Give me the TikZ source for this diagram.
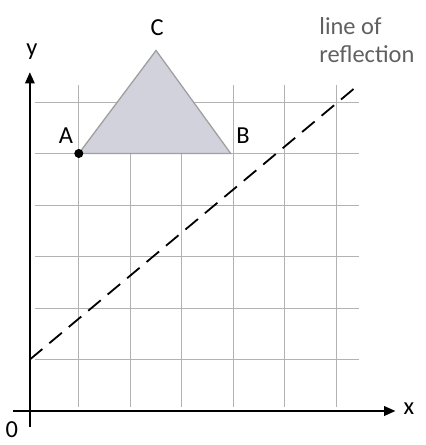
\documentclass[tikz,border=0pt]{standalone}
\usepackage{fontspec}
\setmainfont{Carlito}
\usetikzlibrary{positioning,arrows.meta}
\definecolor{reflfill}{RGB}{210,210,220}
\tikzset{
    reflgrid/.style={draw, gray!60, line width=0.5pt},
    reflaxis/.style={draw, line width=1.3pt, -{Triangle[length=2.2mm, width=1.8mm]}},
    reflshape/.style={draw=gray!75, fill=reflfill, line width=0.7pt},
    reflmirror/.style={draw, line width=1pt, dash pattern=on 9pt off 5pt},
    refllabel/.style={font=\fontsize{13.5}{15}\selectfont, inner sep=1pt},
    refldot/.style={draw, circle, fill=black, minimum size=0.16cm, inner sep=0pt}
}

\begin{document}
\begin{tikzpicture}
    \useasboundingbox (-0.58,-0.66) rectangle (7.69,7.98);

    % grid
    \foreach \k in {1,...,6} {
        \draw[reflgrid] (\k-0.05,0.08) -- (\k-0.05,6.33);
        \draw[reflgrid] (0.1,\k) -- (6.39,\k);
    }

    % axes
    \coordinate (xstart) at (-0.33,0);
    \coordinate (xend) at (7.1,0);
    \coordinate (ystart) at (0,-0.31);
    \coordinate (yend) at (0,6.58);
    \draw[reflaxis] (xstart) -- (xend);
    \draw[reflaxis] (ystart) -- (yend);
    \node[refllabel] (xlab) at (7.36,0.04) {x};
    \node[refllabel] (ylab) at (0.04,6.97) {y};
    \node[refllabel] (orig) at (-0.35,-0.37) {0};

    % triangle
    \coordinate (A) at (0.95,5);
    \coordinate (B) at (3.9,5);
    \coordinate (C) at (2.45,7);
    \draw[reflshape] (A) -- (B) -- (C) -- cycle;
    \node[refldot] (Adot) at (A) {};
    \node[refllabel] (Alab) at (0.7,5.34) {A};
    \node[refllabel] (Blab) at (4.14,5.34) {B};
    \node[refllabel] (Clab) at (2.47,7.44) {C};

    % line of reflection
    \coordinate (mstart) at (0,1);
    \coordinate (mend) at (6.39,6.34);
    \draw[reflmirror] (mstart) -- (mend);
    \node[refllabel, align=left, anchor=west, text=gray!75!black] (mlab) at (5.58,7.2) {line of\\reflection};
\end{tikzpicture}
\end{document}
